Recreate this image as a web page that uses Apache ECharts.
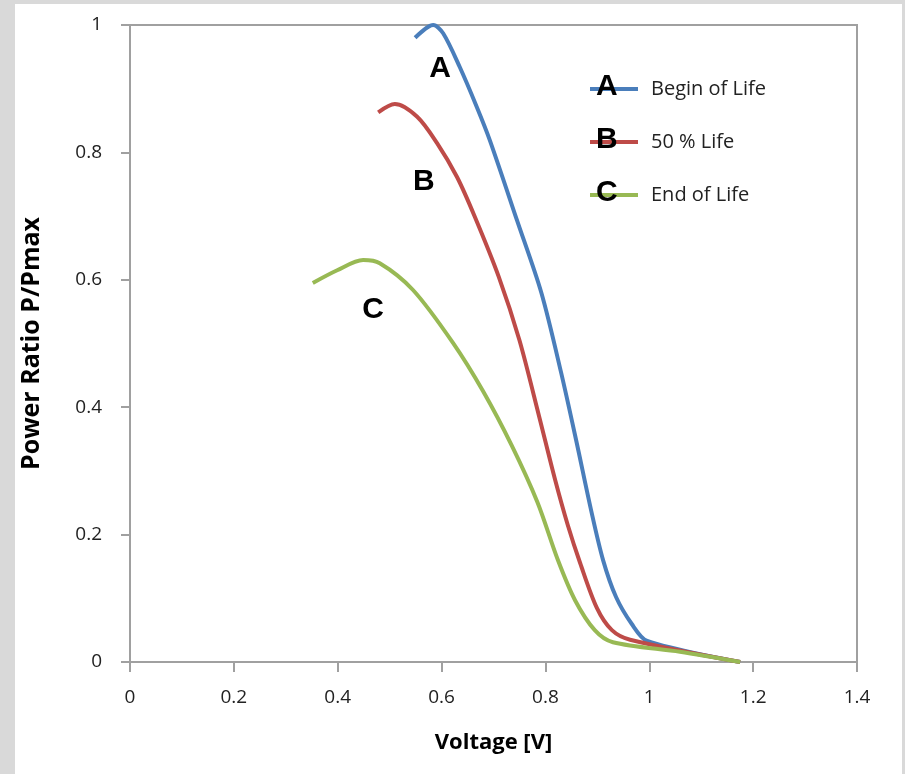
<!DOCTYPE html>
<html>
<head>
<meta charset="utf-8">
<script src="https://cdn.jsdelivr.net/npm/echarts@6/dist/echarts.min.js"></script>
<style>
  html, body { margin: 0; padding: 0; background: #d9d9d9; }
  #chart { width: 905px; height: 774px; }
</style>
</head>
<body>
<div id="chart"></div>
<script>
// 曲线数据 电压[V] / 功率比
var seriesNames = ["Begin of Life", "50 % Life", "End of Life"];
var seriesLetters = ["A", "B", "C"];
var seriesColors = ["#4a7ebb", "#be4b48", "#98b954"];

var voltA = [0.549, 0.584, 0.603, 0.635, 0.668, 0.693, 0.745, 0.792, 0.830, 0.860, 0.888, 0.911, 0.936, 0.966, 0.996, 1.175];
var powerA = [0.980, 1.000, 0.987, 0.934, 0.871, 0.819, 0.694, 0.580, 0.455, 0.345, 0.238, 0.160, 0.102, 0.060, 0.033, 0.000];

var voltB = [0.478, 0.510, 0.553, 0.591, 0.630, 0.664, 0.710, 0.750, 0.788, 0.818, 0.843, 0.867, 0.899, 0.928, 0.963, 1.175];
var powerB = [0.863, 0.876, 0.856, 0.815, 0.761, 0.699, 0.605, 0.505, 0.385, 0.288, 0.215, 0.155, 0.085, 0.050, 0.035, 0.000];

var voltC = [0.352, 0.399, 0.449, 0.481, 0.545, 0.622, 0.680, 0.735, 0.785, 0.824, 0.857, 0.895, 0.930, 1.059, 1.175];
var powerC = [0.595, 0.615, 0.631, 0.626, 0.584, 0.501, 0.425, 0.340, 0.250, 0.160, 0.097, 0.050, 0.031, 0.016, 0.000];

// 曲线旁的字母标注位置 (数据坐标)
var letterX = [0.597, 0.566, 0.468];
var letterY = [0.931, 0.754, 0.553];

var xTicks = [0, 0.2, 0.4, 0.6, 0.8, 1, 1.2, 1.4];
var yTicks = [0, 0.2, 0.4, 0.6, 0.8, 1];

var volts = [voltA, voltB, voltC];
var powers = [powerA, powerB, powerC];

var font = "'Open Sans', 'Noto Sans', sans-serif";
var axisGray = "#a0a0a0";

function zip(xs, ys) {
    var out = [];
    for (var i = 0; i < xs.length; i++) {
        out.push([xs[i], ys[i]]);
    }
    return out;
}

var series = [];
for (var i = 0; i < 3; i++) {
    series.push({
        name: seriesNames[i],
        type: "line",
        data: zip(volts[i], powers[i]),
        smooth: 0.3,
        showSymbol: false,
        symbol: "none",
        lineStyle: { color: seriesColors[i], width: 4 },
        itemStyle: { color: seriesColors[i] },
        markPoint: {
            symbol: "circle",
            symbolSize: 1,
            itemStyle: { color: "rgba(0,0,0,0)" },
            label: {
                show: true,
                position: "inside",
                formatter: seriesLetters[i],
                color: "#000",
                fontFamily: "'Liberation Sans', Arial, sans-serif",
                fontWeight: "bold",
                fontSize: 30
            },
            data: [{ coord: [letterX[i], letterY[i]] }]
        }
    });
}

var myChart = echarts.init(document.getElementById("chart"));
var option = {
    backgroundColor: "#d9d9d9",
    animation: false,
    graphic: [
        { type: "rect", left: 15, top: 4, shape: { width: 887, height: 770 }, style: { fill: "#fff" }, z: -10 },
        // 图例里线上的字母
        { type: "text", left: 596, top: 72, style: { text: "A", fill: "#000", font: "bold 30px 'Liberation Sans', Arial" }, z: 10 },
        { type: "text", left: 596, top: 125, style: { text: "B", fill: "#000", font: "bold 30px 'Liberation Sans', Arial" }, z: 10 },
        { type: "text", left: 596, top: 178, style: { text: "C", fill: "#000", font: "bold 30px 'Liberation Sans', Arial" }, z: 10 }
    ],
    grid: {
        left: 130, top: 25, right: 48, bottom: 112,
        show: true, borderColor: axisGray, borderWidth: 2, backgroundColor: "transparent"
    },
    legend: {
        orient: "vertical",
        left: 585, top: 74,
        itemWidth: 48, itemHeight: 4, itemGap: 33,
        icon: "rect",
        data: seriesNames,
        textStyle: { fontFamily: font, fontSize: 20, color: "#222", lineHeight: 20, padding: [0, 0, 0, 8] }
    },
    xAxis: {
        type: "value",
        min: 0, max: 1.4, interval: 0.2,
        name: "Voltage [V]",
        nameLocation: "middle",
        nameGap: 70,
        nameTextStyle: { fontFamily: font, fontSize: 22, fontWeight: "bold", color: "#000" },
        axisLine: { show: true, lineStyle: { color: axisGray, width: 2 } },
        axisTick: { show: true, inside: false, length: 10, lineStyle: { color: axisGray, width: 2 } },
        splitLine: { show: false },
        axisLabel: {
            margin: 26, fontFamily: font, fontSize: 19, color: "#222",
            formatter: function (v) { return xTicks.indexOf(+v.toFixed(1)) >= 0 ? String(+v.toFixed(1)) : ""; }
        }
    },
    yAxis: {
        type: "value",
        min: 0, max: 1, interval: 0.2,
        name: "Power Ratio P/Pmax",
        nameLocation: "middle",
        nameGap: 86,
        nameTextStyle: { fontFamily: font, fontSize: 25, fontWeight: "bold", color: "#000" },
        axisLine: { show: true, lineStyle: { color: axisGray, width: 2 } },
        axisTick: { show: true, inside: false, length: 9, lineStyle: { color: axisGray, width: 2 } },
        splitLine: { show: false },
        axisLabel: {
            margin: 28, fontFamily: font, fontSize: 19, color: "#222",
            formatter: function (v) { return yTicks.indexOf(+v.toFixed(1)) >= 0 ? String(+v.toFixed(1)) : ""; }
        }
    },
    series: series
};
myChart.setOption(option, true);
</script>
</body>
</html>
